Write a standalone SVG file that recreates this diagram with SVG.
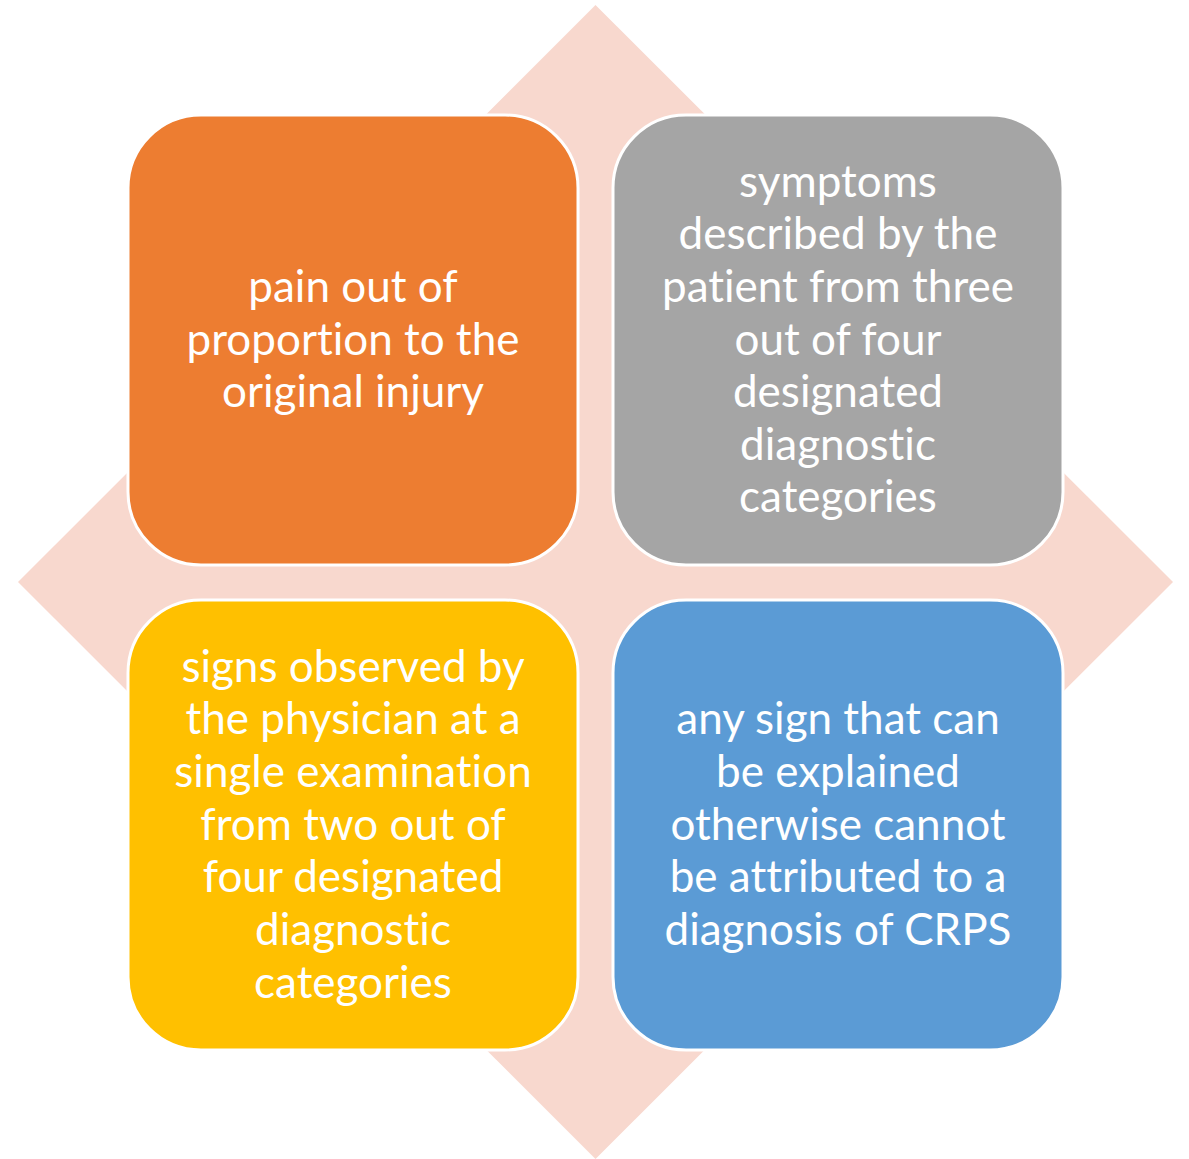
<svg xmlns="http://www.w3.org/2000/svg" width="1189" height="1159" viewBox="0 0 1189 1159">
<style>
.box{stroke:#FFFFFF;stroke-width:3}
.t{font-family:Lato,"Open Sans","Liberation Sans",sans-serif;font-size:44px;fill:#FFFFFF;text-anchor:middle;font-variant-ligatures:none}
</style>
<rect width="1189" height="1159" fill="#FFFFFF"/>
<polygon id="diamond" points="595.5,5 1173,582 595.5,1159 18,582" fill="#F8D8CE"/>
<g id="connectors"/>
<g id="node-pain">
<rect class="box" x="128" y="115" width="450" height="450" rx="73" fill="#ED7D31"/>
<text class="t" x="353" y="302">pain out of</text>
<text class="t" x="353" y="355">proportion to the</text>
<text class="t" x="353" y="407">original injury</text>
</g>
<g id="node-symptoms">
<rect class="box" x="613" y="115" width="450" height="450" rx="73" fill="#A5A5A5"/>
<text class="t" x="838" y="197">symptoms</text>
<text class="t" x="838" y="249">described by the</text>
<text class="t" x="838" y="302">patient from three</text>
<text class="t" x="838" y="355">out of four</text>
<text class="t" x="838" y="407">designated</text>
<text class="t" x="838" y="460">diagnostic</text>
<text class="t" x="838" y="512">categories</text>
</g>
<g id="node-signs">
<rect class="box" x="128" y="600" width="450" height="450" rx="73" fill="#FFC000"/>
<text class="t" x="353" y="682">signs observed by</text>
<text class="t" x="353" y="734">the physician at a</text>
<text class="t" x="353" y="787">single examination</text>
<text class="t" x="353" y="840">from two out of</text>
<text class="t" x="353" y="892">four designated</text>
<text class="t" x="353" y="945">diagnostic</text>
<text class="t" x="353" y="998">categories</text>
</g>
<g id="node-any">
<rect class="box" x="613" y="600" width="450" height="450" rx="73" fill="#5B9BD5"/>
<text class="t" x="838" y="734">any sign that can</text>
<text class="t" x="838" y="787">be explained</text>
<text class="t" x="838" y="840">otherwise cannot</text>
<text class="t" x="838" y="892">be attributed to a</text>
<text class="t" x="838" y="945">diagnosis of CRPS</text>
</g>
</svg>
